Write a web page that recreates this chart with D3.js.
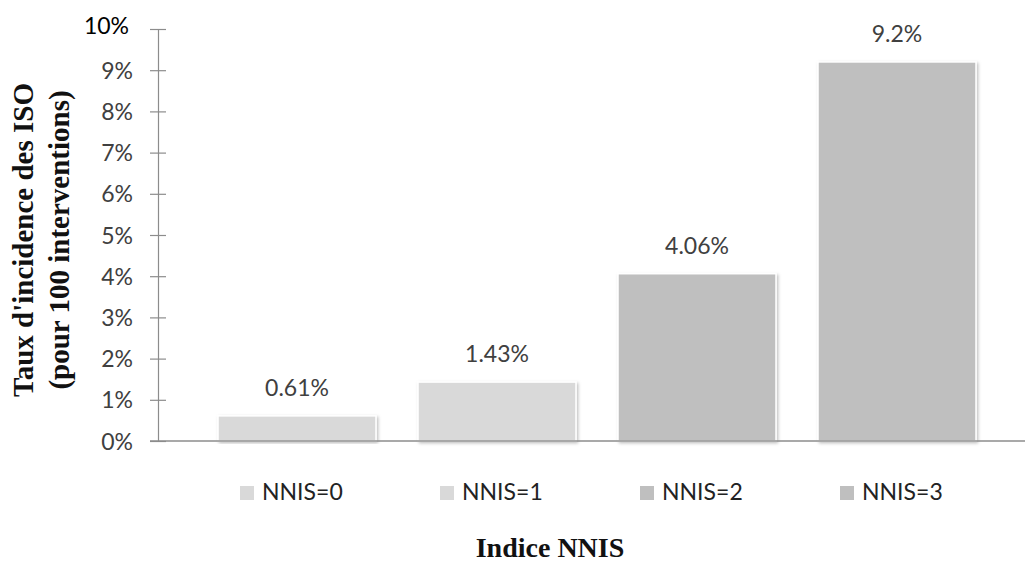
<!DOCTYPE html>
<html>
<head>
<meta charset="utf-8">
<script src="https://cdn.jsdelivr.net/npm/d3@7"></script>
<style>
  body { margin: 0; background: #fff; }
  svg { display: block; }
</style>
</head>
<body>
<svg id="chart" width="1026" height="565"></svg>
<script>
// NNIS risk index categories and SSI incidence rates (%)
const categories = ["NNIS=0", "NNIS=1", "NNIS=2", "NNIS=3"];
const rates = [0.61, 1.43, 4.06, 9.2];
const rateLabels = ["0.61%", "1.43%", "4.06%", "9.2%"];
const barColors = ["#d9d9d9", "#d9d9d9", "#bfbfbf", "#bfbfbf"];
const yTicks = [0, 1, 2, 3, 4, 5, 6, 7, 8, 9, 10];

const svg = d3.select("#chart");
const sansFont = "Lato, 'Open Sans', sans-serif";
const serifFont = "'Liberation Serif', 'DejaVu Serif', serif";

const x = d3.scaleBand().domain(categories).range([197, 997]).paddingInner(0.21).paddingOuter(0.105);
const y = d3.scaleLinear().domain([0, 10]).range([441, 29]);

// soft shadow under bars
const defs = svg.append("defs");
const f = defs.append("filter").attr("id", "shadow").attr("x", "-10%").attr("y", "-10%").attr("width", "120%").attr("height", "120%");
f.append("feDropShadow").attr("dx", 1.5).attr("dy", 1.5).attr("stdDeviation", 1.5).attr("flood-color", "#000").attr("flood-opacity", 0.25);

// y axis
const yAxis = d3.axisLeft(y).tickValues(yTicks).tickFormat(d => d + "%").tickSize(8);
const gy = svg.append("g").attr("transform", "translate(158,0)").call(yAxis);
gy.select(".domain").attr("stroke", "#8c8c8c").attr("stroke-width", 1.2);
gy.selectAll(".tick line").attr("stroke", "#8c8c8c").attr("x2", 8).attr("x1", -8).attr("stroke-width", 1.2);
gy.selectAll(".tick text")
  .attr("font-family", sansFont).attr("font-size", 23)
  .attr("fill", d => d === 10 ? "#000" : "#404040")
  .attr("x", d => d === 10 ? -29 : -25)
  .attr("dy", d => d === 10 ? "0.2em" : "0.35em");

// bars
svg.append("g").selectAll("rect").data(rates).join("rect")
  .attr("x", (d, i) => x(categories[i]))
  .attr("width", x.bandwidth())
  .attr("y", d => y(d))
  .attr("height", d => y(0) - y(d))
  .attr("fill", (d, i) => barColors[i])
  .attr("stroke", "#fff").attr("stroke-width", 1.5)
  .attr("filter", "url(#shadow)");

// baseline
svg.append("line").attr("x1", 150).attr("x2", 1025).attr("y1", y(0)).attr("y2", y(0))
  .attr("stroke", "#8c8c8c").attr("stroke-width", 1.5);

// value labels
svg.append("g").selectAll("text").data(rates).join("text")
  .attr("x", (d, i) => x(categories[i]) + x.bandwidth() / 2)
  .attr("y", d => y(d) - 20)
  .attr("text-anchor", "middle")
  .attr("font-family", sansFont).attr("font-size", 23).attr("fill", "#404040")
  .text((d, i) => rateLabels[i]);

// legend
const legend = svg.append("g").selectAll("g").data(categories).join("g")
  .attr("transform", (d, i) => `translate(${x(d) + 22},486)`);
legend.append("rect").attr("width", 14).attr("height", 14)
  .attr("fill", (d, i) => barColors[i]);
legend.append("text").attr("x", 22).attr("y", 14)
  .attr("font-family", sansFont).attr("font-size", 23).attr("fill", "#222")
  .text(d => d);

// axis titles
svg.append("text").attr("x", 550).attr("y", 557).attr("text-anchor", "middle")
  .attr("font-family", serifFont).attr("font-weight", "bold").attr("font-size", 28).attr("fill", "#111")
  .text("Indice NNIS");

const yt = svg.append("text").attr("transform", "translate(33,240) rotate(-90)").attr("text-anchor", "middle")
  .attr("font-family", serifFont).attr("font-weight", "bold").attr("font-size", 29).attr("fill", "#111");
yt.append("tspan").attr("x", 0).attr("y", 0).text("Taux d'incidence des ISO");
yt.append("tspan").attr("x", 0).attr("y", 36).text("(pour 100 interventions)");
</script>
</body>
</html>
